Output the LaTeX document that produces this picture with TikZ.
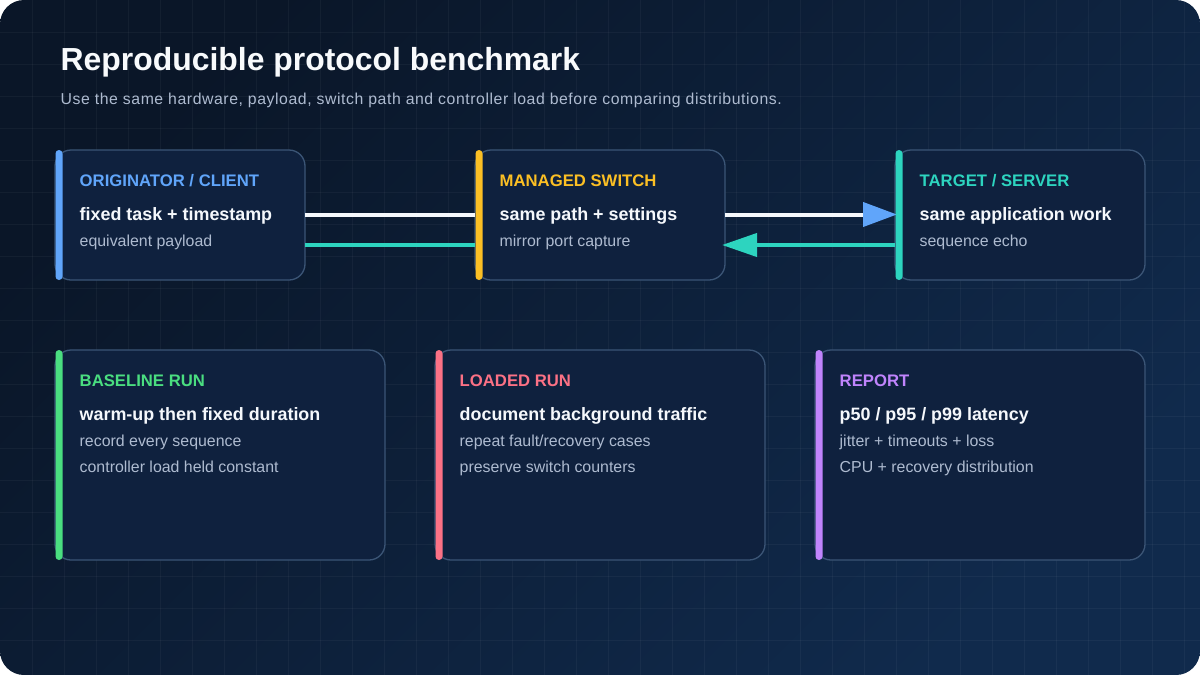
\documentclass[tikz,border=0pt]{standalone}
\usepackage{fontspec}
\setmainfont{Liberation Sans}
\newfontfamily\subtitlefont[LetterSpace=3.6]{Liberation Sans}
\usetikzlibrary{arrows.meta,calc}
\definecolor{bgA}{HTML}{0A1628}
\definecolor{bgB}{HTML}{102A4C}
\definecolor{boxfill}{HTML}{0F213E}
\definecolor{boxline}{HTML}{3B5576}
\definecolor{cblue}{HTML}{60A5FA}
\definecolor{cyellow}{HTML}{FBBF24}
\definecolor{cteal}{HTML}{2DD4BF}
\definecolor{cgreen}{HTML}{4ADE80}
\definecolor{cred}{HTML}{FB7185}
\definecolor{cpurple}{HTML}{C084FC}
\definecolor{mainwhite}{HTML}{F5F8FC}
\definecolor{subgray}{HTML}{AEBBD0}
\definecolor{titlewhite}{HTML}{F8FAFC}
\tikzset{
  card/.style={draw=boxline, line width=1.3pt, fill=boxfill, rounded corners=16pt, inner sep=0pt, outer sep=0pt},
  lbl/.style={anchor=base west, inner sep=0pt, font=\fontsize{16.7}{20}\selectfont\bfseries},
  mainln/.style={anchor=base west, inner sep=0pt, text=mainwhite, font=\fontsize{17.9}{22}\selectfont\bfseries},
  subln/.style={anchor=base west, inner sep=0pt, text=subgray, font=\fontsize{15.9}{19}\selectfont},
  flow/.style={line width=4pt},
}
\newcommand{\accentbar}[3]{\fill[#1, rounded corners=3.5pt] ($(#2.north west)+(0.5,0)$) rectangle ++(7,#3);}
\begin{document}
\begin{tikzpicture}[x=1pt,y=-1pt]
\useasboundingbox (0,0) rectangle (1200,675);
\fill[white] (0,0) rectangle (1200,675);
\shade[rounded corners=24pt, top color=bgA, bottom color=bgB, shading angle=45] (0,0) rectangle (1200,675);
\begin{scope}
\clip[rounded corners=24pt] (0,0) rectangle (1200,675);
\foreach \gx in {32,64,...,1190} \draw[white, opacity=0.04, line width=0.8pt] (\gx,0) -- (\gx,675);
\foreach \gy in {32,64,...,670} \draw[white, opacity=0.04, line width=0.8pt] (0,\gy) -- (1200,\gy);
\end{scope}

% title
\node[anchor=base west, inner sep=0pt, text=titlewhite, font=\fontsize{31.9}{38}\selectfont\bfseries] (title) at (60.5,70) {Reproducible protocol benchmark};
\node[anchor=base west, inner sep=0pt, text=subgray, font=\subtitlefont\fontsize{15.8}{19}\selectfont] (subtitle) at (60.5,104) {Use the same hardware, payload, switch path and controller load before comparing distributions.};

% cards top row
\node[card, minimum width=250pt, minimum height=130pt] (client) at (180,215) {};
\node[card, minimum width=250pt, minimum height=130pt] (switch) at (600,215) {};
\node[card, minimum width=250pt, minimum height=130pt] (server) at (1020,215) {};
% bottom row
\node[card, minimum width=330pt, minimum height=210pt] (base) at (220,455) {};
\node[card, minimum width=330pt, minimum height=210pt] (loaded) at (600,455) {};
\node[card, minimum width=330pt, minimum height=210pt] (report) at (980,455) {};

% top texts
\node[lbl, text=cblue] (clientL) at ($(client.north west)+(24.5,36)$) {ORIGINATOR / CLIENT};
\node[mainln] (clientM) at ($(client.north west)+(24.5,70)$) {fixed task + timestamp};
\node[subln] (clientS) at ($(client.north west)+(24.5,96)$) {equivalent payload};

\node[lbl, text=cyellow] (switchL) at ($(switch.north west)+(24.5,36)$) {MANAGED SWITCH};
\node[mainln] (switchM) at ($(switch.north west)+(24.5,70)$) {same path + settings};
\node[subln] (switchS) at ($(switch.north west)+(24.5,96)$) {mirror port capture};

\node[lbl, text=cteal] (serverL) at ($(server.north west)+(24.5,36)$) {TARGET / SERVER};
\node[mainln] (serverM) at ($(server.north west)+(24.5,70)$) {same application work};
\node[subln] (serverS) at ($(server.north west)+(24.5,96)$) {sequence echo};

% bottom texts
\node[lbl, text=cgreen] (baseL) at ($(base.north west)+(24.5,36)$) {BASELINE RUN};
\node[mainln] (baseM) at ($(base.north west)+(24.5,70)$) {warm-up then fixed duration};
\node[subln] (baseS1) at ($(base.north west)+(24.5,96)$) {record every sequence};
\node[subln] (baseS2) at ($(base.north west)+(24.5,122)$) {controller load held constant};

\node[lbl, text=cred] (loadedL) at ($(loaded.north west)+(24.5,36)$) {LOADED RUN};
\node[mainln] (loadedM) at ($(loaded.north west)+(24.5,70)$) {document background traffic};
\node[subln] (loadedS1) at ($(loaded.north west)+(24.5,96)$) {repeat fault/recovery cases};
\node[subln] (loadedS2) at ($(loaded.north west)+(24.5,122)$) {preserve switch counters};

\node[lbl, text=cpurple] (reportL) at ($(report.north west)+(24.5,36)$) {REPORT};
\node[mainln] (reportM) at ($(report.north west)+(24.5,70)$) {p50 / p95 / p99 latency};
\node[subln] (reportS1) at ($(report.north west)+(24.5,96)$) {jitter + timeouts + loss};
\node[subln] (reportS2) at ($(report.north west)+(24.5,122)$) {CPU + recovery distribution};

% connectors
\coordinate (fwd) at (0,214.5);
\coordinate (bwd) at (0,245);
\draw[flow, mainwhite] (client.east |- fwd) -- (switch.west |- fwd);
\draw[flow, mainwhite, -{Triangle[length=34pt,width=24pt,fill=cblue,color=cblue]}, shorten >=-2pt] (switch.east |- fwd) -- (server.west |- fwd);
\draw[flow, cteal, -{Triangle[length=35pt,width=23pt]}, shorten >=-3pt] (server.west |- bwd) -- (switch.east |- bwd);
\draw[flow, cteal] (switch.west |- bwd) -- (client.east |- bwd);

% accent bars
\accentbar{cblue}{client}{130}
\accentbar{cyellow}{switch}{130}
\accentbar{cteal}{server}{130}
\accentbar{cgreen}{base}{210}
\accentbar{cred}{loaded}{210}
\accentbar{cpurple}{report}{210}
\end{tikzpicture}
\end{document}
